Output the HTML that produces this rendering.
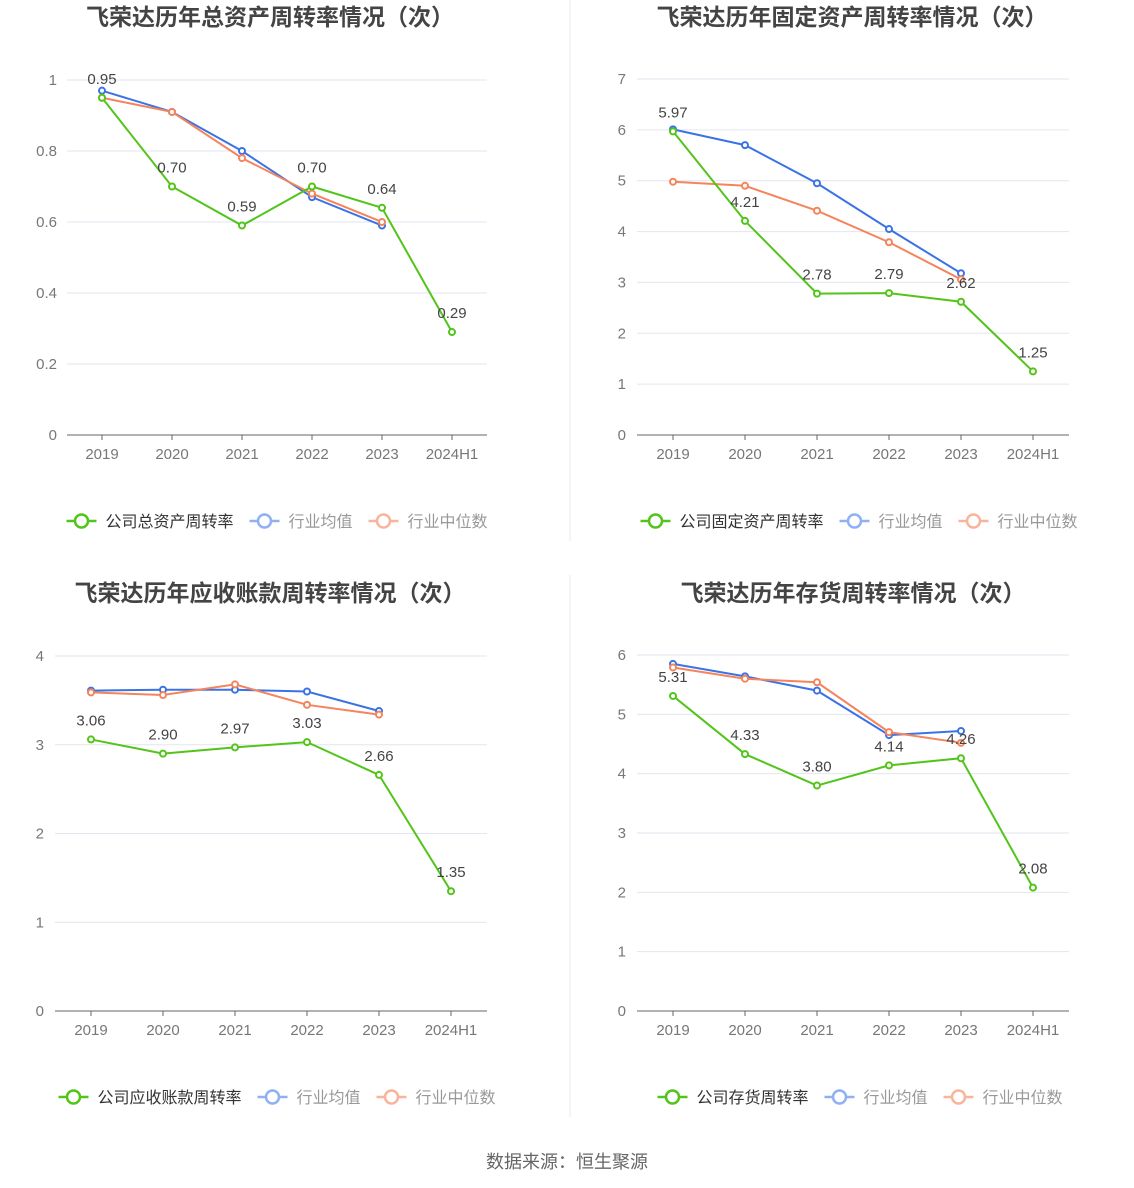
<!DOCTYPE html>
<html><head><meta charset="utf-8">
<style>
body{margin:0;background:#fff;font-family:"Liberation Sans","Noto Sans CJK SC",sans-serif;}
svg{position:absolute;left:0;top:0}
</style></head>
<body>
<svg id="s" width="1134" height="1188"></svg>
<script>
const categories=["2019","2020","2021","2022","2023","2024H1"];
const c1Company=[0.95,0.70,0.59,0.70,0.64,0.29];
const c1Avg=[0.97,0.91,0.80,0.67,0.59];
const c1Med=[0.95,0.91,0.78,0.68,0.60];
const c1Ticks=["0","0.2","0.4","0.6","0.8","1"];
const c2Company=[5.97,4.21,2.78,2.79,2.62,1.25];
const c2Avg=[6.01,5.70,4.95,4.05,3.18];
const c2Med=[4.98,4.90,4.41,3.79,3.06];
const c2Ticks=["0","1","2","3","4","5","6","7"];
const c3Company=[3.06,2.90,2.97,3.03,2.66,1.35];
const c3Avg=[3.61,3.62,3.62,3.60,3.38];
const c3Med=[3.59,3.56,3.68,3.45,3.34];
const c3Ticks=["0","1","2","3","4"];
const c4Company=[5.31,4.33,3.80,4.14,4.26,2.08];
const c4Avg=[5.85,5.64,5.40,4.65,4.72];
const c4Med=[5.79,5.60,5.54,4.70,4.52];
const c4Ticks=["0","1","2","3","4","5","6"];
const titles=["飞荣达历年总资产周转率情况（次）","飞荣达历年固定资产周转率情况（次）","飞荣达历年应收账款周转率情况（次）","飞荣达历年存货周转率情况（次）"];
const legendNames=["公司总资产周转率","公司固定资产周转率","公司应收账款周转率","公司存货周转率"];
const G="#52c41a",B="#3b73e6",O="#f5845c";
const NS="http://www.w3.org/2000/svg";const svg=document.getElementById('s');
function el(t,a,p){const e=document.createElementNS(NS,t);for(const k in a)e.setAttribute(k,a[k]);(p||svg).appendChild(e);return e;}
function txt(x,y,s,a,p){const e=el('text',Object.assign({x:x,y:y},a),p);e.textContent=s;return e;}
const cfg=[
 {x0:67,x1:487,x:102,dx:70,y0:435,yt:80,max:1,ticks:c1Ticks,comp:c1Company,avg:c1Avg,med:c1Med,ty:17,ly:521,lx:57,tc:270,lc:277},
 {x0:637,x1:1069,x:673,dx:72,y0:435,yt:79,max:7,ticks:c2Ticks,comp:c2Company,avg:c2Avg,med:c2Med,ty:17,ly:521,lx:626,tc:852,lc:859},
 {x0:55,x1:487,x:91,dx:72,y0:1011,yt:656,max:4,ticks:c3Ticks,comp:c3Company,avg:c3Avg,med:c3Med,ty:593,ly:1097,lx:44,tc:270,lc:277},
 {x0:637,x1:1069,x:673,dx:72,y0:1011,yt:655,max:6,ticks:c4Ticks,comp:c4Company,avg:c4Avg,med:c4Med,ty:593,ly:1097,lx:626,tc:853,lc:860}];
cfg.forEach((c,i)=>{
 const g=el('g',{});
 
 
 const X=k=>c.x+k*c.dx, Y=v=>c.y0-(v/c.max)*(c.y0-c.yt);
 const t=txt(c.tc,c.ty+8,titles[i],{'text-anchor':'middle','font-size':23,'font-weight':'bold',fill:'#444'},g);
 
 c.ticks.forEach((s,k)=>{const v=parseFloat(s);const y=Y(v);
  if(k>0)el('line',{x1:c.x0,x2:c.x1,y1:y,y2:y,stroke:'#e3e6f0'},g);
  const l=txt(c.lx,y+5,s,{'text-anchor':'end','font-size':15,fill:'#777'},g);
  });
 el('line',{x1:c.x0,x2:c.x1,y1:c.y0,y2:c.y0,stroke:'#666'},g);
 categories.forEach((s,k)=>{el('line',{x1:X(k),x2:X(k),y1:c.y0,y2:c.y0+5,stroke:'#666'},g);
  const l=txt(X(k),c.y0+24,s,{'text-anchor':'middle','font-size':15,fill:'#777'},g);
  });
 [[c.avg,B,'industry-average-line'],[c.med,O,'industry-median-line'],[c.comp,G,'company-line']].forEach(([d,col,nm])=>{
  const p=el('polyline',{points:d.map((v,k)=>X(k)+','+Y(v)).join(' '),fill:'none',stroke:col,'stroke-width':2},g);
  
  d.forEach((v,k)=>{const m=el('circle',{cx:X(k),cy:Y(v),r:3,fill:'#fff',stroke:col,'stroke-width':2},g);
   });});
 c.comp.forEach((v,k)=>{const l=txt(X(k),Y(v)-14,v.toFixed(2),{'text-anchor':'middle','font-size':15,fill:'#444'},g);
  });
 const items=[[legendNames[i],G,'#333'],['行业均值','#8fb0f3','#999'],['行业中位数','#f9b49c','#999']];
 const widths=items.map(it=>it[0].length*16+39);
 const total=widths.reduce((a,b)=>a+b,0)+2*16;
 let lx=c.lc-total/2;
 items.forEach((it,k)=>{const lg=el('g',{},g);
  
  el('line',{x1:lx,x2:lx+30,y1:c.ly,y2:c.ly,stroke:it[1],'stroke-width':2.5},lg);
  el('circle',{cx:lx+15,cy:c.ly,r:6.5,fill:'#fff',stroke:it[1],'stroke-width':2.5},lg);
  txt(lx+39,c.ly+6,it[0],{'font-size':16,fill:it[2]},lg);
  lx+=widths[k]+16;});
});
const d1=el('line',{x1:570,x2:570,y1:0,y2:541,stroke:'#e8e8e8'});

const d2=el('line',{x1:570,x2:570,y1:575,y2:1117,stroke:'#e8e8e8'});

const f=txt(567,1168,'数据来源：恒生聚源',{'text-anchor':'middle','font-size':18,fill:'#666'});

</script>
</body></html>
